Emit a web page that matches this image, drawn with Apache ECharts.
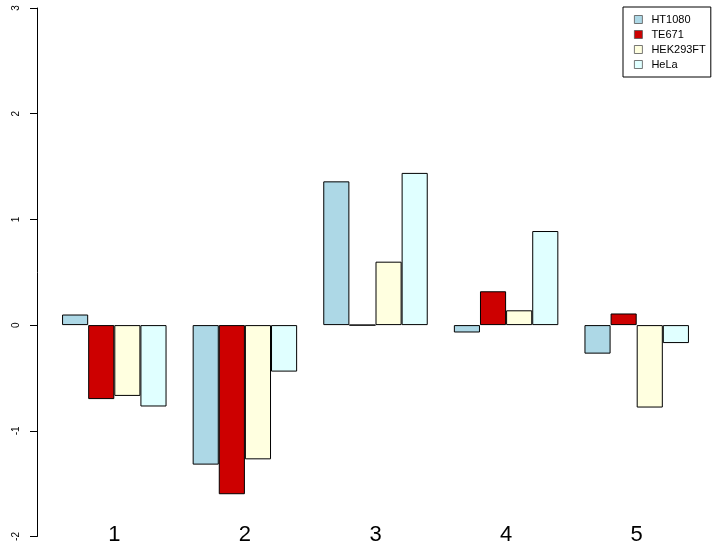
<!DOCTYPE html>
<html><head><meta charset="utf-8">
<script src="https://cdn.jsdelivr.net/npm/echarts@6/dist/echarts.min.js"></script>
<style>html,body{margin:0;padding:0;background:#fff}#c{width:713px;height:548px}</style>
</head><body><div id="c"></div>
<script>
const categories = ['1', '2', '3', '4', '5'];
const seriesNames = ['HT1080', 'TE671', 'HEK293FT', 'HeLa'];
const ht1080 = [0.10, -1.32, 1.36, -0.07, -0.27];
const te671 = [-0.70, -1.60, 0.00, 0.32, 0.11];
const hek293ft = [-0.67, -1.27, 0.60, 0.14, -0.78];
const hela = [-0.77, -0.44, 1.44, 0.89, -0.17];
const yTicks = { min: -2, max: 3, interval: 1 };
const colors = ['#ADD8E6', '#CD0000', '#FFFFE0', '#E0FFFF'];
const values = [ht1080, te671, hek293ft, hela];

const chart = echarts.init(document.getElementById('c'), null, {renderer: 'canvas'});
chart.setOption({
  animation: false,
  backgroundColor: '#fff',
  textStyle: { fontFamily: 'Liberation Sans, Arial, sans-serif' },
  grid: { left: 49, top: 8, width: 653, height: 528.5, containLabel: false },
  legend: {
    data: seriesNames,
    orient: 'vertical',
    left: 623, top: 7,
    icon: 'rect',
    itemWidth: 8, itemHeight: 8, itemGap: 4,
    padding: [7, 5, 7, 11],
    borderColor: '#000', borderWidth: 1,
    itemStyle: { borderColor: '#555', borderWidth: 0.8 },
    textStyle: { fontSize: 11, color: '#000', padding: [0, 0, 0, 4] },
    selectedMode: false
  },
  xAxis: {
    type: 'category', data: categories,
    axisLine: { show: false }, axisTick: { show: false },
    axisLabel: { fontSize: 22, color: '#000', margin: -13 }
  },
  yAxis: {
    type: 'value', min: yTicks.min, max: yTicks.max, interval: yTicks.interval,
    offset: 12,
    splitLine: { show: false },
    axisLine: { show: true, lineStyle: { color: '#000', width: 1 } },
    axisTick: { show: true, length: 7, lineStyle: { color: '#000' } },
    axisLabel: { rotate: 90, fontSize: 10, color: '#000', margin: 16 }
  },
  series: seriesNames.map((n, i) => ({
    name: n, type: 'bar', data: values[i],
    barGap: '0%', barCategoryGap: '20%',
    itemStyle: { color: colors[i], borderColor: '#000', borderWidth: 1 },
    emphasis: { disabled: true }
  }))
});
</script></body></html>
